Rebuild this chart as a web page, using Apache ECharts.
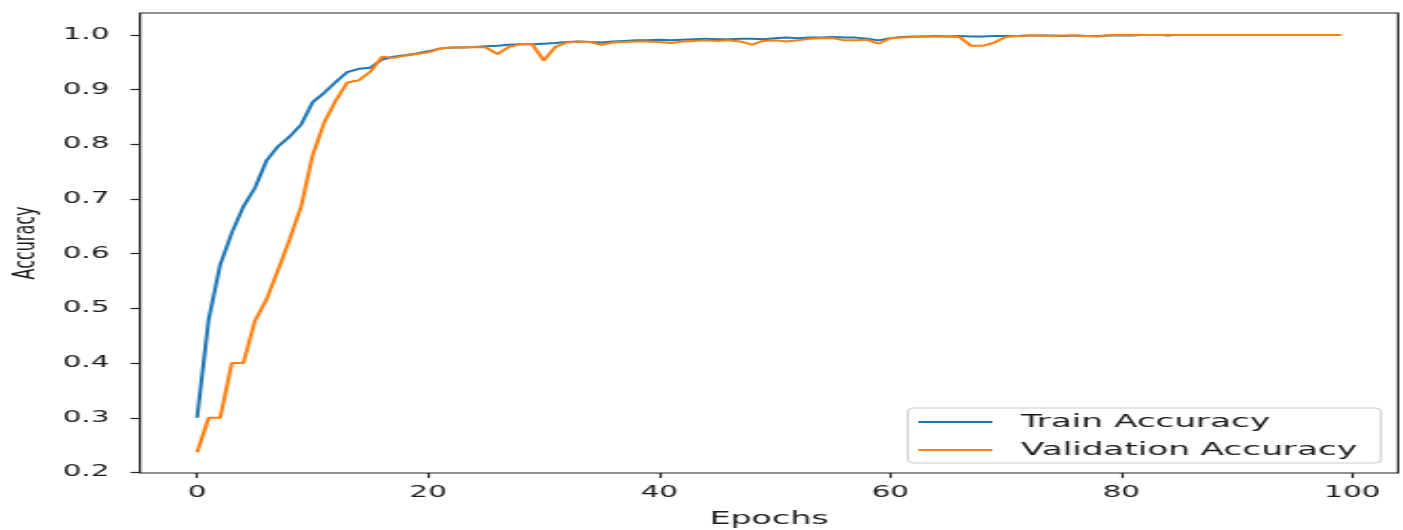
<!DOCTYPE html>
<html>
<head>
<meta charset="utf-8">
<script src="https://cdn.jsdelivr.net/npm/echarts@6/dist/echarts.min.js"></script>
<style>
html,body{margin:0;padding:0;background:#fff;overflow:hidden;}
#c{width:738px;height:530px;transform:scaleX(1.90108);transform-origin:0 0;}
</style>
</head>
<body>
<div id="c"></div>
<script>
// Data
const epochs = Array.from({length: 100}, (_, i) => i);
const trainAccuracy = [
  0.300, 0.480, 0.580, 0.638, 0.686, 0.720, 0.770, 0.796, 0.814, 0.836,
  0.877, 0.894, 0.914, 0.932, 0.938, 0.940, 0.955, 0.960, 0.963, 0.966,
  0.970, 0.975, 0.977, 0.977, 0.978, 0.979, 0.980, 0.982, 0.983, 0.983,
  0.984, 0.985, 0.987, 0.988, 0.987, 0.986, 0.988, 0.989, 0.990, 0.990,
  0.991, 0.990, 0.991, 0.992, 0.993, 0.992, 0.992, 0.993, 0.993, 0.992,
  0.994, 0.995, 0.994, 0.995, 0.995, 0.996, 0.995, 0.995, 0.993, 0.990,
  0.994, 0.996, 0.997, 0.997, 0.998, 0.997, 0.998, 0.997, 0.997, 0.998,
  0.998, 0.998, 0.999, 0.999, 0.999, 0.998, 0.999, 0.998, 0.998, 0.999,
  0.999, 0.999, 1.000, 1.000, 0.999, 1.000, 1.000, 1.000, 1.000, 1.000,
  1.000, 1.000, 1.000, 1.000, 1.000, 1.000, 1.000, 1.000, 1.000, 1.000
];
const validationAccuracy = [
  0.237, 0.300, 0.300, 0.400, 0.400, 0.477, 0.516, 0.570, 0.626, 0.686,
  0.780, 0.840, 0.880, 0.913, 0.917, 0.933, 0.960, 0.958, 0.962, 0.965,
  0.968, 0.975, 0.977, 0.977, 0.978, 0.977, 0.965, 0.978, 0.983, 0.983,
  0.953, 0.978, 0.986, 0.988, 0.987, 0.982, 0.986, 0.987, 0.988, 0.988,
  0.987, 0.985, 0.988, 0.989, 0.990, 0.989, 0.990, 0.988, 0.982, 0.989,
  0.990, 0.988, 0.990, 0.993, 0.994, 0.994, 0.990, 0.990, 0.991, 0.984,
  0.994, 0.995, 0.996, 0.997, 0.997, 0.997, 0.996, 0.980, 0.980, 0.986,
  0.996, 0.998, 0.999, 0.999, 0.998, 0.999, 0.999, 0.998, 0.997, 1.000,
  1.000, 1.000, 1.000, 1.000, 1.000, 1.000, 1.000, 1.000, 1.000, 1.000,
  1.000, 1.000, 1.000, 1.000, 1.000, 1.000, 1.000, 1.000, 1.000, 1.000
];
const xTicks = [0, 20, 40, 60, 80, 100];
const yTicks = [0.2, 0.3, 0.4, 0.5, 0.6, 0.7, 0.8, 0.9, 1.0];
const seriesNames = ['Train Accuracy', 'Validation Accuracy'];
const colors = ['#1f77b4', '#ff7f0e'];

const font = 'DejaVu Sans';
const txt = '#1a1a1a';
const chart = echarts.init(document.getElementById('c'), null, {renderer: 'canvas'});
chart.setOption({
  animation: false,
  backgroundColor: '#ffffff',
  grid: {left: 73.6, right: 2.6, top: 13, bottom: 57, show: true, borderColor: '#222', borderWidth: 1.2,
         backgroundColor: 'transparent', containLabel: false, outerBoundsMode: 'none'},
  xAxis: {
    type: 'value', min: -4.95, max: 103.95,
    name: 'Epochs', nameLocation: 'middle', nameGap: 37,
    nameTextStyle: {fontFamily: font, fontSize: 17.5, color: txt},
    axisLine: {show: false, onZero: false},
    axisTick: {show: true, length: 5, inside: false, customValues: xTicks, lineStyle: {color: '#222', width: 1.2}},
    axisLabel: {customValues: xTicks, margin: 12, fontFamily: font, fontSize: 15.5, color: txt, formatter: v => String(v)},
    splitLine: {show: false}
  },
  yAxis: {
    type: 'value', min: 0.199, max: 1.04,
    name: 'Accuracy', nameLocation: 'middle', nameGap: 51, nameRotate: 90,
    nameTextStyle: {fontFamily: font, fontSize: 16, color: txt},
    axisLine: {show: false, onZero: false},
    axisTick: {show: true, length: 5, inside: false, customValues: yTicks, lineStyle: {color: '#222', width: 1.2}},
    axisLabel: {customValues: yTicks, margin: 16, fontFamily: font, fontSize: 15.5, color: txt, formatter: v => v.toFixed(1)},
    splitLine: {show: false}
  },
  legend: {
    orient: 'vertical', left: 477.6, top: 408,
    padding: [4, 12.5, 3, 5.4], itemGap: 8, itemWidth: 39, itemHeight: 2, icon: 'rect',
    backgroundColor: 'rgba(255,255,255,0.8)', borderColor: '#cccccc', borderWidth: 1, borderRadius: 3,
    textStyle: {fontFamily: font, fontSize: 18, color: txt, lineHeight: 20, padding: [0, 0, 0, 10]},
    data: seriesNames
  },
  series: [
    {
      name: seriesNames[0], type: 'line', showSymbol: false, symbol: 'none',
      data: epochs.map((e, i) => [e, trainAccuracy[i]]),
      itemStyle: {color: colors[0]}, lineStyle: {color: colors[0], width: 2}
    },
    {
      name: seriesNames[1], type: 'line', showSymbol: false, symbol: 'none',
      data: epochs.map((e, i) => [e, validationAccuracy[i]]),
      itemStyle: {color: colors[1]}, lineStyle: {color: colors[1], width: 2}
    }
  ]
});
</script>
</body>
</html>
